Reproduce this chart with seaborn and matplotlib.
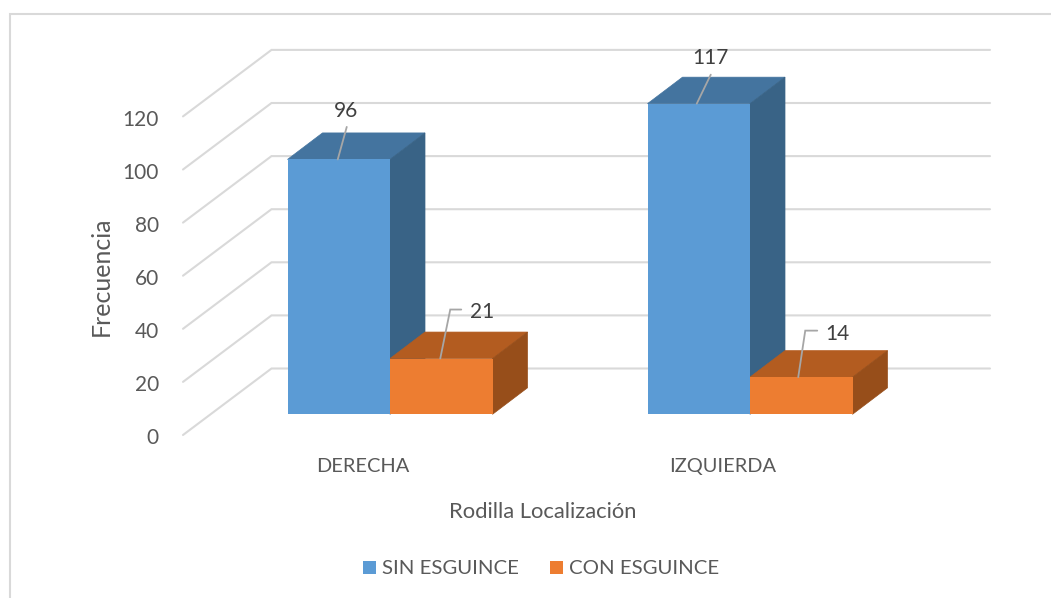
import pandas as pd
import seaborn as sns
import matplotlib.pyplot as plt
from matplotlib.lines import Line2D
from matplotlib.patches import Polygon

categorias = ['DERECHA', 'IZQUIERDA']
sin_esguince = [96, 117]
con_esguince = [21, 14]
frecuencia_ticks = [0, 20, 40, 60, 80, 100, 120]

W, H = 1051, 598
# axes box in pixels, category 0 sits at x0 and value 0 at y0
L, R, T, B = 170, 1000, 30, 450
x0, y0 = 390, 414.3
px_x, px_y = 360, 2.655

def dx(p):
    return p / px_x

def dy(p):
    return p / px_y

sns.set_theme(style='white')
plt.rcParams['font.family'] = ['Lato', 'DejaVu Sans']

df = pd.DataFrame({'Rodilla': categorias, 'SIN ESGUINCE': sin_esguince, 'CON ESGUINCE': con_esguince})
df = df.melt(id_vars='Rodilla', var_name='Grupo', value_name='Frecuencia')

fig = plt.figure(figsize=(W / 100, H / 100), dpi=100)
ax = fig.add_axes([L / W, 1 - B / H, (R - L) / W, (B - T) / H])

sns.barplot(data=df, x='Rodilla', y='Frecuencia', hue='Grupo', ax=ax, width=205 / px_x, gap=0,
            saturation=1, palette=['#5B9BD5', '#ED7D31'], zorder=1, linewidth=0, edgecolor='none')

ax.set_xlim((L - x0) / px_x, (R - x0) / px_x)
ax.set_ylim((y0 - B) / px_y, (y0 - T) / px_y)
sns.despine(ax=ax, left=True, bottom=True)

# back wall and left wall gridlines
back_x, front_x, end_x = dx(271.5 - x0), dx(183 - x0), dx(990 - x0)
back_y, front_y = dy(y0 - 368.5), dy(y0 - 435)
for v in frecuencia_ticks:
    ax.plot([front_x, back_x, end_x], [v + front_y, v + back_y, v + back_y], color='#D9D9D9', lw=1.5,
            zorder=0.5, solid_joinstyle='miter')

# depth faces of the bars, built from the seaborn patches
depth_x, depth_y = dx(35), dy(26.5)
tops = {'SIN ESGUINCE': '#44749F', 'CON ESGUINCE': '#B35C20'}
sides = {'SIN ESGUINCE': '#396386', 'CON ESGUINCE': '#974E1A'}
grupos = ['SIN ESGUINCE', 'CON ESGUINCE']
# offsets of the data labels from the bar top centre, in pixels: leader path, then text
etiquetas = [
    [[(-1, 0), (8, -32.5)], (7, -48.5)],
    [[(-2, 0), (12, -29)], (12, -45.5)],
    [[(-1, 0), (9, -49), (20, -49)], (41, -46.5)],
    [[(-3, 0), (4, -46.5), (16, -46.5)], (36, -43.5)],
]
barras = []
for cont, grupo in zip(ax.containers, grupos):
    for bar in cont:
        x, w, h = bar.get_x(), bar.get_width(), bar.get_height()
        ax.add_patch(Polygon([(x, h), (x + w, h), (x + w + depth_x, h + depth_y), (x + depth_x, h + depth_y)],
                             facecolor=tops[grupo], edgecolor=tops[grupo], lw=0.5, zorder=0.9))
        ax.add_patch(Polygon([(x + w, 0), (x + w + depth_x, depth_y), (x + w + depth_x, h + depth_y), (x + w, h)],
                             facecolor=sides[grupo], edgecolor=sides[grupo], lw=0.5, zorder=0.9))
        barras.append((x + w / 2, h))

for (cx, h), (path, txt) in zip(barras, etiquetas):
    ax.plot([cx + dx(p[0]) for p in path], [h - dy(p[1]) for p in path], color='#A6A6A6', lw=1.3,
            zorder=3, solid_joinstyle='miter')
    ax.text(cx + dx(txt[0]), h - dy(txt[1]), f'{h:.0f}', ha='center', va='center', fontsize=15,
            color='#404040', zorder=4)

ax.set_xticks([i + dx(-27) for i in range(len(categorias))], categorias)
ax.set_yticks([v + front_y - dy(1.5) for v in frecuencia_ticks], frecuencia_ticks)
ax.tick_params(axis='x', length=0, pad=6, labelsize=14.4, labelcolor='#595959')
ax.tick_params(axis='y', length=0, pad=8, labelsize=15, labelcolor='#595959')

ax.set_xlabel('')
ax.set_ylabel('')
fig.text(543 / W, 1 - 511.5 / H, 'Rodilla Localización', ha='center', va='center', fontsize=15.8, color='#595959')
fig.text(101 / W, 1 - 276 / H, 'Frecuencia', ha='center', va='center', rotation=90, fontsize=18, color='#595959')

handles, labels = ax.get_legend_handles_labels()
ax.legend(handles, labels, loc='center', bbox_to_anchor=(541 / W, 1 - 569 / H), bbox_transform=fig.transFigure,
          ncol=2, frameon=False, fontsize=14.7, handlelength=0.65, handleheight=0.65, handletextpad=0.3,
          columnspacing=1.5, labelcolor='#595959')

# frame of the chart area, cut at the image edge
fig.add_artist(Line2D([9.5 / W, 9.5 / W, 1], [0, 1 - 14 / H, 1 - 14 / H], color='#D9D9D9', lw=1.5,
                      transform=fig.transFigure, solid_joinstyle='miter'))

plt.savefig('out.png', dpi=100)
plt.close()
